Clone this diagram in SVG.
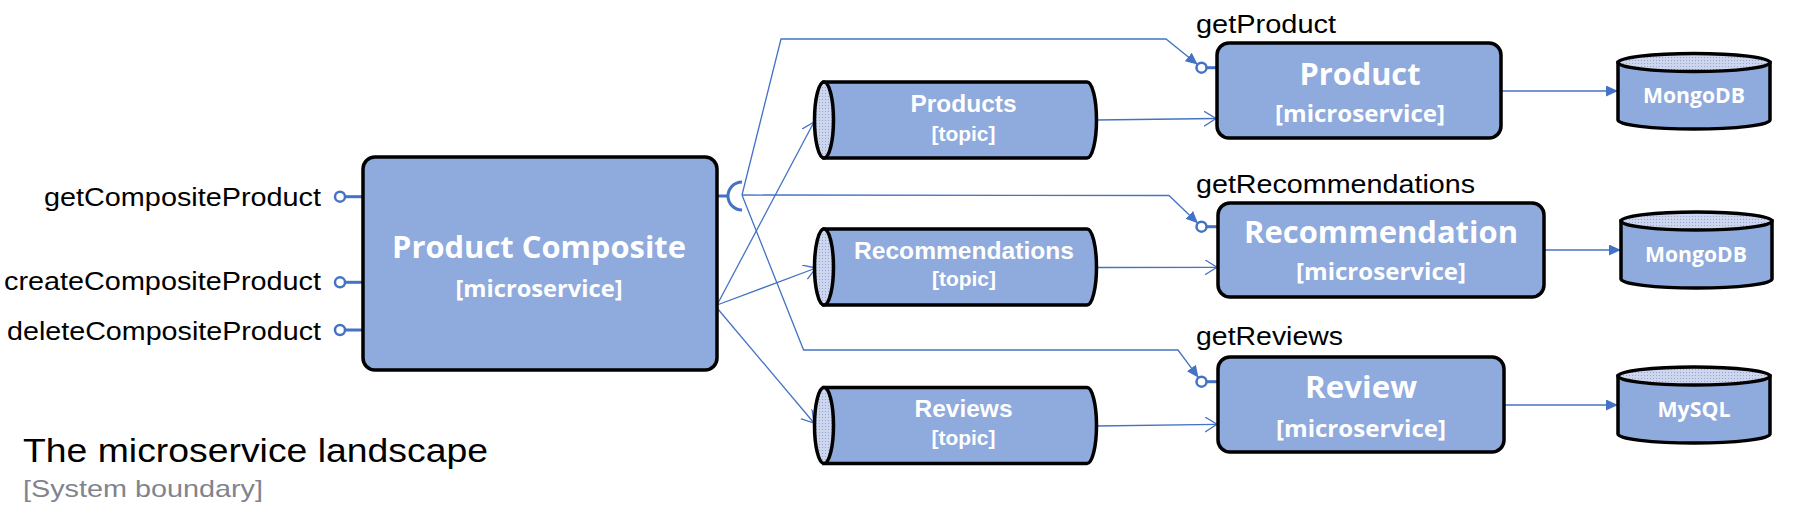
<svg xmlns="http://www.w3.org/2000/svg" width="1793" height="519" viewBox="0 0 1793 519">
<defs>
<style>
.box{fill:#8faadc;stroke:#000;stroke-width:3.5}
.lite{fill:url(#dots);stroke:#000;stroke-width:3.5}
.wt{fill:#fff;font-family:"Open Sans","Noto Sans",sans-serif;font-weight:bold;text-anchor:middle}
.tt{fill:#fff;font-family:"Liberation Sans",Arial,sans-serif;font-weight:bold;text-anchor:middle}
.lbl{fill:#000;font-family:"Liberation Sans",Arial,sans-serif;font-size:26px}
.con{fill:none;stroke:#4472c4;stroke-width:1.3}
.ifc{fill:#fff;stroke:#4472c4;stroke-width:2.5}
.stub{fill:none;stroke:#4472c4;stroke-width:3}
</style>
<pattern id="dots" width="3" height="3" patternUnits="userSpaceOnUse">
<rect width="3" height="3" fill="#cdd6ec"/>
<rect width="1" height="1" fill="#8fa5d6"/>
</pattern>
<marker id="fill" markerUnits="userSpaceOnUse" markerWidth="13" markerHeight="12" refX="12" refY="5.5" orient="auto">
<path d="M0,0 L12,5.5 L0,11 Z" fill="#4472c4"/>
</marker>
<marker id="open" markerUnits="userSpaceOnUse" markerWidth="14" markerHeight="16" refX="12" refY="7.5" orient="auto">
<path d="M0,0 L12,7.5 L0,15" fill="none" stroke="#4472c4" stroke-width="1.3"/>
</marker>
</defs>
<rect width="1793" height="519" fill="#fff"/>

<g id="connectors">
<path class="con" d="M742,195 L781,39 L1166,39 L1197.6,64.6" marker-end="url(#fill)"/>
<path class="con" d="M742,195 L1169,195.5 L1197.9,223.2" marker-end="url(#fill)"/>
<path class="con" d="M742,195 L803.6,350 L1178,350 L1198.5,377.7" marker-end="url(#fill)"/>
<path class="con" d="M717,305 L814,122" marker-end="url(#open)"/>
<path class="con" d="M717,305 L816,268" marker-end="url(#open)"/>
<path class="con" d="M717,308 L814,423" marker-end="url(#open)"/>
<path class="con" d="M1096,120 L1216,118.5" marker-end="url(#open)"/>
<path class="con" d="M1096,267.5 L1217,267.3" marker-end="url(#open)"/>
<path class="con" d="M1096,426 L1217,424.3" marker-end="url(#open)"/>
<path class="con" d="M1501,91 L1618,91" marker-end="url(#fill)"/>
<path class="con" d="M1544,250 L1621,250" marker-end="url(#fill)"/>
<path class="con" d="M1504,405 L1618,405" marker-end="url(#fill)"/>
</g>

<g id="product-composite">
<line class="stub" x1="345.5" y1="196.7" x2="363" y2="196.7"/>
<line class="stub" x1="345.5" y1="282.3" x2="363" y2="282.3"/>
<line class="stub" x1="345.5" y1="330" x2="363" y2="330"/>
<circle class="ifc" cx="340" cy="196.7" r="5"/>
<circle class="ifc" cx="340" cy="282.3" r="5"/>
<circle class="ifc" cx="340" cy="330" r="5"/>
<text class="lbl" x="321" y="206" text-anchor="end" textLength="277" lengthAdjust="spacingAndGlyphs">getCompositeProduct</text>
<text class="lbl" x="321" y="290" text-anchor="end" textLength="317" lengthAdjust="spacingAndGlyphs">createCompositeProduct</text>
<text class="lbl" x="321" y="340" text-anchor="end" textLength="314" lengthAdjust="spacingAndGlyphs">deleteCompositeProduct</text>
<line class="stub" x1="717" y1="196" x2="729" y2="196"/>
<path class="stub" d="M742,182 A14,14 0 0 0 742,210"/>
<rect class="box" x="363" y="157" width="354" height="213" rx="12"/>
<text class="wt" x="539" y="258" font-size="30" textLength="294" lengthAdjust="spacingAndGlyphs">Product Composite</text>
<text class="wt" x="539" y="296.5" font-size="23" textLength="167" lengthAdjust="spacingAndGlyphs">[microservice]</text>
</g>

<g id="topic-products">
<path class="box" d="M824,82 H1087 A9.5,38 0 0 1 1087,158 H824 Z"/>
<ellipse class="lite" cx="824" cy="120" rx="9.5" ry="38"/>
<text class="tt" x="963.5" y="111.7" font-size="24" textLength="106" lengthAdjust="spacingAndGlyphs">Products</text>
<text class="tt" x="963.5" y="140.7" font-size="21" textLength="64" lengthAdjust="spacingAndGlyphs">[topic]</text>
</g>

<g id="topic-recommendations">
<path class="box" d="M824,229 H1087 A9.5,38 0 0 1 1087,305 H824 Z"/>
<ellipse class="lite" cx="824" cy="267" rx="9.5" ry="38"/>
<text class="tt" x="964" y="259" font-size="24" textLength="220" lengthAdjust="spacingAndGlyphs">Recommendations</text>
<text class="tt" x="964" y="286" font-size="21" textLength="64" lengthAdjust="spacingAndGlyphs">[topic]</text>
</g>

<g id="topic-reviews">
<path class="box" d="M824,387.5 H1087 A9.5,38 0 0 1 1087,463.5 H824 Z"/>
<ellipse class="lite" cx="824" cy="425.5" rx="9.5" ry="38"/>
<text class="tt" x="963.5" y="416.7" font-size="24" textLength="98" lengthAdjust="spacingAndGlyphs">Reviews</text>
<text class="tt" x="963.5" y="445" font-size="21" textLength="64" lengthAdjust="spacingAndGlyphs">[topic]</text>
</g>

<g id="product">
<text class="lbl" x="1196" y="33" textLength="140" lengthAdjust="spacingAndGlyphs">getProduct</text>
<line class="stub" x1="1206.5" y1="67.7" x2="1217" y2="67.7"/>
<circle class="ifc" cx="1201.5" cy="67.7" r="5"/>
<rect class="box" x="1217" y="43" width="284" height="95" rx="12"/>
<text class="wt" x="1360" y="85" font-size="30" textLength="121" lengthAdjust="spacingAndGlyphs">Product</text>
<text class="wt" x="1360" y="121.5" font-size="23" textLength="170" lengthAdjust="spacingAndGlyphs">[microservice]</text>
</g>

<g id="recommendation">
<text class="lbl" x="1196" y="193.3" textLength="279" lengthAdjust="spacingAndGlyphs">getRecommendations</text>
<line class="stub" x1="1206.5" y1="226.7" x2="1218" y2="226.7"/>
<circle class="ifc" cx="1201.5" cy="226.7" r="5"/>
<rect class="box" x="1218" y="203" width="326" height="94" rx="12"/>
<text class="wt" x="1381" y="243.3" font-size="30" textLength="274" lengthAdjust="spacingAndGlyphs">Recommendation</text>
<text class="wt" x="1381" y="280" font-size="23" textLength="170" lengthAdjust="spacingAndGlyphs">[microservice]</text>
</g>

<g id="review">
<text class="lbl" x="1196" y="345" textLength="147" lengthAdjust="spacingAndGlyphs">getReviews</text>
<line class="stub" x1="1206.5" y1="381.7" x2="1218" y2="381.7"/>
<circle class="ifc" cx="1201.5" cy="381.7" r="5"/>
<rect class="box" x="1218" y="357" width="286" height="95" rx="12"/>
<text class="wt" x="1361" y="398.3" font-size="30" textLength="112" lengthAdjust="spacingAndGlyphs">Review</text>
<text class="wt" x="1361" y="436.7" font-size="23" textLength="170" lengthAdjust="spacingAndGlyphs">[microservice]</text>
</g>

<g id="db-product">
<path class="box" d="M1618,62.5 V120 A76,9 0 0 0 1770,120 V62.5 Z"/>
<ellipse class="lite" cx="1694" cy="62.5" rx="76" ry="9"/>
<text class="wt" x="1694" y="103.3" font-size="22" textLength="102" lengthAdjust="spacingAndGlyphs">MongoDB</text>
</g>

<g id="db-recommendation">
<path class="box" d="M1621,221 V279 A75.5,9 0 0 0 1772,279 V221 Z"/>
<ellipse class="lite" cx="1696.5" cy="221" rx="75.5" ry="9"/>
<text class="wt" x="1696" y="261.7" font-size="22" textLength="102" lengthAdjust="spacingAndGlyphs">MongoDB</text>
</g>

<g id="db-review">
<path class="box" d="M1618,376 V434 A76,9 0 0 0 1770,434 V376 Z"/>
<ellipse class="lite" cx="1694" cy="376" rx="76" ry="9"/>
<text class="wt" x="1694" y="417.3" font-size="22" textLength="73" lengthAdjust="spacingAndGlyphs">MySQL</text>
</g>

<g id="boundary">
<text x="23" y="462" font-family="'Liberation Sans',Arial,sans-serif" font-size="33" fill="#000" textLength="465" lengthAdjust="spacingAndGlyphs">The microservice landscape</text>
<text x="23" y="497" font-family="'Liberation Sans',Arial,sans-serif" font-size="24" fill="#7f848e" textLength="240" lengthAdjust="spacingAndGlyphs">[System boundary]</text>
</g>
</svg>
